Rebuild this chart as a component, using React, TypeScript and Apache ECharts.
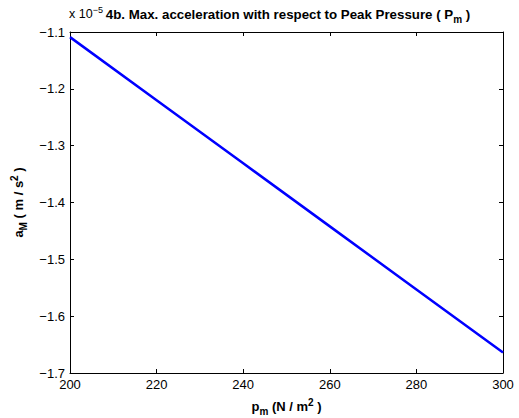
import React, { useEffect, useRef } from "react";
import * as echarts from "echarts";

const FONT = "'Liberation Sans', Arial, Helvetica, sans-serif";

// Peak pressure p_m (N/m^2)
const pressure = [200, 220, 240, 260, 280, 300];
// Max acceleration a_M (x 1e-5 m/s^2)
const accel = [-1.109, -1.22, -1.331, -1.442, -1.553, -1.664];

const xTicks = { min: 200, max: 300, interval: 20 };
const yTicks = { min: -1.7, max: -1.1, interval: 0.1 };

const fmtY = (v: number) => v.toFixed(1).replace("-", "\u2212");

export default function App() {
  const ref = useRef<HTMLDivElement>(null);
  useEffect(() => {
    document.body.style.margin = "0";
    const chart = echarts.init(ref.current!, null, { renderer: "svg" });
    const tickStyle = { inside: true, length: 4, lineStyle: { color: "#000", width: 1 } };
    const lineStyle = { lineStyle: { color: "#000", width: 1 } };
    const nameRich = {
      b: { fontSize: 13, fontWeight: "bold", color: "#000", fontFamily: FONT },
      s: { fontSize: 10, fontWeight: "bold", color: "#000", fontFamily: FONT, padding: [9, 0, 0, 0] },
      p: { fontSize: 10, fontWeight: "bold", color: "#000", fontFamily: FONT, padding: [0, 0, 8, 0] },
    };
    chart.setOption({
      animation: false,
      backgroundColor: "#fff",
      textStyle: { fontFamily: FONT },
      grid: { left: 70, right: 16, top: 32, bottom: 45, containLabel: false, outerBoundsMode: "none" },
      xAxis: [
        {
          type: "value",
          position: "bottom",
          ...xTicks,
          axisLine: lineStyle,
          axisTick: tickStyle,
          splitLine: { show: false },
          axisLabel: { color: "#000", fontSize: 13, margin: 5, fontFamily: FONT },
          name: "{b|p}{s|m}{b| (N / m}{p|2}{b| )}",
          nameLocation: "middle",
          nameGap: 24,
          nameTextStyle: { rich: nameRich },
        },
        {
          type: "value",
          position: "top",
          ...xTicks,
          axisLine: lineStyle,
          axisTick: tickStyle,
          splitLine: { show: false },
          axisLabel: { show: false },
        },
      ],
      yAxis: [
        {
          type: "value",
          position: "left",
          ...yTicks,
          axisLine: { show: true, ...lineStyle },
          axisTick: { show: true, ...tickStyle },
          splitLine: { show: false },
          axisLabel: { color: "#000", fontSize: 13, margin: 5, fontFamily: FONT, formatter: fmtY },
          name: "{b|a}{s|M}{b| ( m / s}{p|2}{b| )}",
          nameLocation: "middle",
          nameRotate: 90,
          nameGap: 37,
          nameTextStyle: { rich: nameRich },
        },
        {
          type: "value",
          position: "right",
          ...yTicks,
          axisLine: { show: true, ...lineStyle },
          axisTick: { show: true, ...tickStyle },
          splitLine: { show: false },
          axisLabel: { show: false },
        },
      ],
      graphic: [
        {
          type: "text",
          left: 69,
          top: 5,
          style: {
            text: "{n|x 10}{p|\u22125}",
            rich: {
              n: { fontSize: 12.5, fill: "#000", fontFamily: FONT },
              p: { fontSize: 9, fill: "#000", fontFamily: FONT, padding: [0, 0, 9, 0] },
            },
          },
        },
        {
          type: "text",
          x: 288,
          y: 14,
          style: {
            text: "{b|4b. Max. acceleration with respect to Peak Pressure ( P}{s|m}{b| )}",
            align: "center",
            verticalAlign: "middle",
            rich: {
              b: { fontSize: 13.3, fontWeight: "bold", fill: "#000", fontFamily: FONT },
              s: { fontSize: 10, fontWeight: "bold", fill: "#000", fontFamily: FONT, padding: [10, 0, 0, 0] },
            },
          },
        },
      ],
      series: [
        {
          type: "line",
          xAxisIndex: 0,
          yAxisIndex: 0,
          data: pressure.map((p, i) => [p, accel[i]]),
          showSymbol: false,
          symbol: "none",
          lineStyle: { color: "#0000ff", width: 2.5 },
        },
      ],
    });
    return () => chart.dispose();
  }, []);
  return <div ref={ref} style={{ width: 519, height: 418 }} />;
}
